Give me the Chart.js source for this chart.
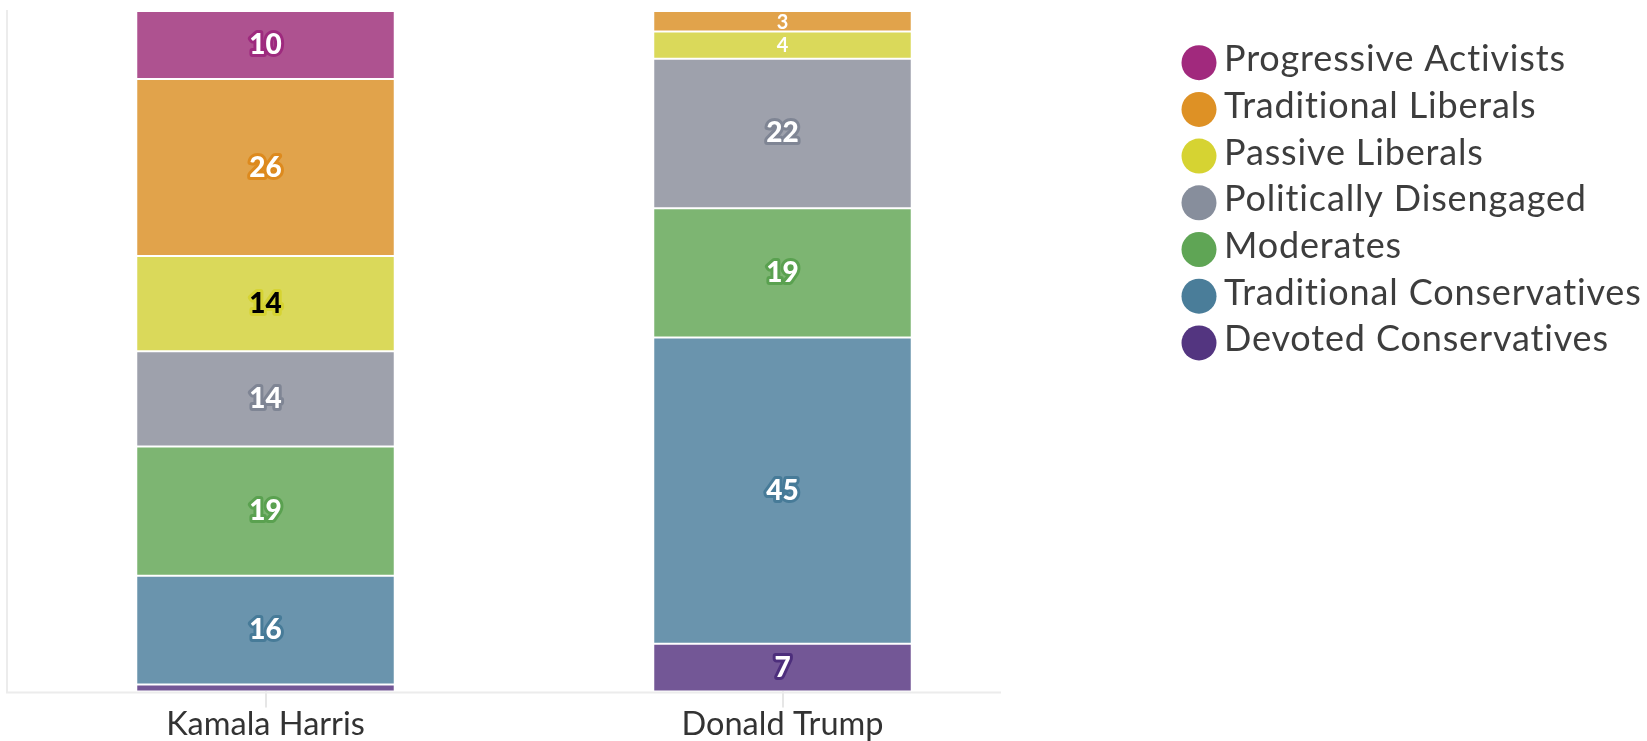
<!DOCTYPE html>
<html>
<head>
<meta charset="utf-8">
<script src="https://cdn.jsdelivr.net/npm/chart.js@4"></script>
<style>
  html, body { margin: 0; padding: 0; background: #ffffff; }
  #wrap { width: 1647px; height: 741px; position: relative; }
</style>
</head>
<body>
<div id="wrap"><canvas id="c"></canvas></div>
<script>
// ---- data ----
const categories = ['Kamala Harris', 'Donald Trump'];
const seriesNames = ['Progressive Activists', 'Traditional Liberals', 'Passive Liberals', 'Politically Disengaged', 'Moderates', 'Traditional Conservatives', 'Devoted Conservatives'];
const progressiveActivists = [10, 0];
const traditionalLiberals = [26, 3];
const passiveLiberals = [14, 4];
const politicallyDisengaged = [14, 22];
const moderates = [19, 19];
const traditionalConservatives = [16, 45];
const devotedConservatives = [1, 7];

// ---- styles ----
const legendColors = ['#a1297d', '#de9125', '#d6d332', '#878e9c', '#5fa555', '#4a7d99', '#533580'];
const barColors   = ['#ae5290', '#e1a34b', '#dad95a', '#9ea1ac', '#7db572', '#6a94ad', '#735796'];
const labelFill   = ['#ffffff', '#ffffff', '#000000', '#ffffff', '#ffffff', '#ffffff', '#ffffff'];
const labelStroke = ['#9e2a7e', '#dd8a1e', '#d6d332', '#7f8594', '#5aa150', '#477b98', '#4d2e7c'];

const seriesValues = [progressiveActivists, traditionalLiberals, passiveLiberals, politicallyDisengaged, moderates, traditionalConservatives, devotedConservatives];

// stack from bottom (Devoted) to top (Progressive)
const datasets = [];
for (let k = seriesNames.length - 1; k >= 0; k--) {
  datasets.push({
    label: seriesNames[k],
    data: seriesValues[k],
    backgroundColor: barColors[k],
    borderColor: 'rgba(255,255,255,0.95)',
    borderWidth: 1,
    borderSkipped: false,
    _idx: k
  });
}

const segLabels = {
  id: 'segLabels',
  afterDatasetsDraw(chart) {
    const ctx = chart.ctx;
    const a = chart.chartArea;
    ctx.save();
    ctx.beginPath();
    ctx.rect(a.left, a.top, a.right - a.left, a.bottom - a.top);
    ctx.clip();
    chart.data.datasets.forEach((ds, di) => {
      const meta = chart.getDatasetMeta(di);
      meta.data.forEach((el, i) => {
        const v = ds.data[i];
        const p = el.getProps(['x', 'y', 'base'], true);
        const h = Math.abs(p.base - p.y);
        if (h < 12) return;
        const cy = (p.y + p.base) / 2;
        const small = h < 32;
        const k = ds._idx;
        ctx.textAlign = 'center';
        ctx.textBaseline = 'middle';
        if (small) {
          ctx.font = '700 20px Lato';
          ctx.fillStyle = '#ffffff';
          ctx.fillText(String(v), p.x, cy + 1);
        } else {
          ctx.font = '900 28px Lato';
          ctx.lineJoin = 'round';
          ctx.lineWidth = 6;
          ctx.strokeStyle = labelStroke[k];
          ctx.strokeText(String(v), p.x, cy);
          ctx.fillStyle = labelFill[k];
          ctx.fillText(String(v), p.x, cy);
        }
      });
    });
    ctx.restore();
  }
};

const axisLine = {
  id: 'axisLine',
  beforeDatasetsDraw(chart) {
    const ctx = chart.ctx;
    const a = chart.chartArea;
    ctx.save();
    ctx.strokeStyle = '#ececec';
    ctx.lineWidth = 2;
    ctx.beginPath();
    ctx.moveTo(a.left - 1, a.bottom + 1);
    ctx.lineTo(a.right - 40, a.bottom + 1);
    ctx.stroke();
    ctx.restore();
  }
};

const sideLegend = {
  id: 'sideLegend',
  afterDraw(chart) {
    const ctx = chart.ctx;
    const cx = chart.chartArea.right + 158;
    const y0 = 62.7, step = 46.7, r = 17.5;
    ctx.save();
    ctx.font = '36px Lato';
    if ('letterSpacing' in ctx) ctx.letterSpacing = '0.85px';
    ctx.textAlign = 'left';
    ctx.textBaseline = 'alphabetic';
    seriesNames.forEach((name, i) => {
      const cy = y0 + i * step;
      ctx.beginPath();
      ctx.arc(cx, cy, r, 0, Math.PI * 2);
      ctx.fillStyle = legendColors[i];
      ctx.fill();
      ctx.fillStyle = '#3d3d3d';
      ctx.fillText(name, cx + 25, cy + 8.5);
    });
    ctx.restore();
  }
};

new Chart(document.getElementById('c'), {
  type: 'bar',
  data: { labels: categories, datasets: datasets },
  options: {
    responsive: true,
    maintainAspectRatio: false,
    animation: false,
    layout: { padding: { left: 7, right: 606, top: 11, bottom: 0 } },
    categoryPercentage: 1.0,
    barPercentage: 0.5,
    plugins: { legend: { display: false }, tooltip: { enabled: false } },
    scales: {
      x: {
        stacked: true,
        offset: true,
        grid: { display: true, drawOnChartArea: false, drawTicks: true, tickLength: 16, offset: false, color: '#e6e6e6', lineWidth: 2 },
        border: { display: false },
        ticks: { color: '#333333', font: { family: 'Lato', size: 32.5, lineHeight: 0.85 }, padding: 3 }
      },
      y: {
        stacked: true,
        min: 0,
        max: 100,
        ticks: { display: false },
        grid: { display: false, drawTicks: false },
        border: { display: true, color: '#ececec', width: 2 }
      }
    }
  },
  plugins: [axisLine, segLabels, sideLegend]
});
</script>
</body>
</html>
